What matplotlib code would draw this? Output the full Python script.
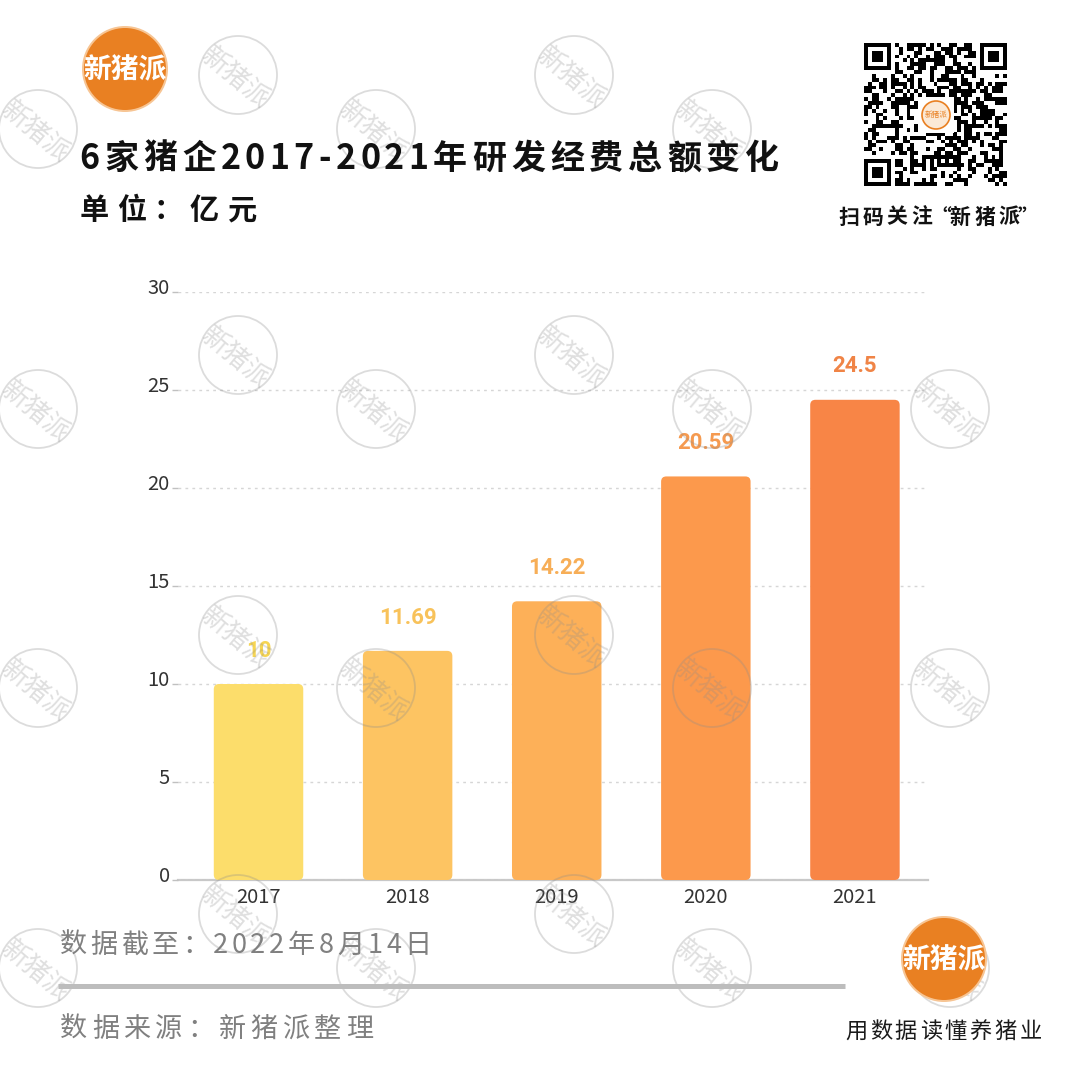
"""6家猪企2017-2021年研发经费总额变化 — bar chart poster recreation."""

import hashlib

import matplotlib

matplotlib.use("Agg")
import matplotlib.pyplot as plt
import numpy as np
from matplotlib.patches import Circle, FancyBboxPatch, Rectangle
from matplotlib.transforms import ScaledTranslation

# ── data ──────────────────────────────────────────────────────────────────────
years = ["2017", "2018", "2019", "2020", "2021"]
values = [10, 11.69, 14.22, 20.59, 24.5]
value_labels = ["10", "11.69", "14.22", "20.59", "24.5"]
y_ticks = [0, 5, 10, 15, 20, 25, 30]

bar_colors = ["#FCDD6B", "#FDC462", "#FDB058", "#FC994C", "#F88546"]
label_colors = ["#F6D553", "#F8C25A", "#F7AE57", "#F59A50", "#F08446"]

CJK = "Noto Sans CJK SC"
plt.rcParams["font.family"] = [CJK, "DejaVu Sans"]

W = H = 1080
fig = plt.figure(figsize=(10.8, 10.8), dpi=100)
fig.patch.set_facecolor("white")

# ── chart axes ────────────────────────────────────────────────────────────────
ax = fig.add_axes([178 / W, 1 - 880 / H, 750 / W, 588 / H])
x = np.arange(len(years))
bars = ax.bar(x, values, width=0.6, color=bar_colors, zorder=2)
ax.set_xlim(-0.54, 4.49)
ax.set_ylim(0, 30)

# rounded corners: rebuild each bar as a FancyBboxPatch with equal px radius
x_per_px = (4.49 + 0.54) / 750
y_per_px = 30 / 588
aspect = y_per_px / x_per_px
for b in bars:
    p = FancyBboxPatch(
        (b.get_x(), b.get_y()),
        b.get_width(),
        b.get_height(),
        boxstyle="round,pad=0,rounding_size=0.035",
        mutation_aspect=aspect,
        facecolor=b.get_facecolor(),
        edgecolor="none",
        zorder=2,
    )
    ax.add_patch(p)
    b.set_visible(False)

for i, (v, lbl, c) in enumerate(zip(values, value_labels, label_colors)):
    ax.annotate(
        lbl, (i, v), xytext=(0, 24), textcoords="offset points",
        ha="center", va="center", fontsize=16, fontweight="bold",
        family="Roboto", color=c, zorder=3,
    )

for s in ax.spines.values():
    s.set_visible(False)
ax.set_yticks(y_ticks)
ax.set_xticks(x)
ax.set_xticklabels(years)
ax.yaxis.grid(True, linestyle=(0, (2, 3)), color="#d6d6d6", lw=1, zorder=0)
ax.axhline(0, color="#c8c8c8", lw=1.6, zorder=1, clip_on=False)
ax.tick_params(axis="y", length=4, width=1, color="#c0c0c0", pad=2,
               labelsize=14.5, labelcolor="#333333")
ax.tick_params(axis="x", length=0, pad=5, labelsize=14.5, labelcolor="#333333")
ax.set_facecolor("none")
shift = ScaledTranslation(0, 6 / 100, fig.dpi_scale_trans)
for t in ax.get_yticklabels():
    t.set_transform(t.get_transform() + shift)

# ── decoration layer (pixel coordinates, y downwards) ─────────────────────────
deco = fig.add_axes([0, 0, 1, 1], zorder=10)
deco.set_autoscale_on(False)
deco.set_xlim(0, W)
deco.set_ylim(H, 0)
deco.axis("off")
deco.patch.set_alpha(0)

# watermarks
wm_a = [(238, 75), (574, 75), (238, 355), (574, 355),
        (238, 635), (574, 635), (238, 914), (574, 914)]
wm_b = [(38, 129), (376, 129), (712, 129),
        (38, 409), (376, 409), (712, 409), (950, 409),
        (38, 688), (376, 688), (712, 688), (950, 688),
        (38, 968), (376, 968), (712, 968), (950, 968)]
for cx, cy in wm_a + wm_b:
    deco.add_patch(Circle((cx, cy), 39, fill=False, ec="#8c8c8c", lw=1.3,
                          alpha=0.3, zorder=1))
    deco.text(cx - 3, cy + 3, "新猪派", rotation=-40, rotation_mode="anchor",
              ha="center", va="center", fontsize=19, color="#8c8c8c",
              alpha=0.28, zorder=1)


def em_width(ch):
    if ch.isdigit():
        return 0.56
    if ch == "-":
        return 0.42
    if ch == " ":
        return 0.25
    if ch in "“”":
        return 0.5
    return 1.0


def spaced(x0, base, s, size, gap, **kw):
    em = size * 100 / 72
    xx = x0
    for ch in s:
        w = em_width(ch) * em
        deco.text(xx + w / 2, base, ch, fontsize=size, ha="center",
                  va="baseline", zorder=5, **kw)
        xx += w + gap


def logo(cx, cy, r, fs):
    deco.add_patch(Circle((cx, cy), r + 2, fc="#F7C594", ec="none", zorder=4))
    deco.add_patch(Circle((cx, cy), r, fc="#E98022", ec="none", zorder=4))
    deco.text(cx, cy + 1, "新猪派", color="white", fontsize=fs,
              fontweight="bold", ha="center", va="center", zorder=5)


# titles
spaced(80, 169, "6家猪企2017-2021年研发经费总额变化", 24.5, 5,
       fontweight="bold", color="#111111")
spaced(80, 219, "单位：亿元", 21, 7.5, fontweight="bold", color="#111111")

# logos
logo(125, 69, 41, 20)
logo(944, 959, 41, 20)

# QR-style code block
n = 37
raw = b"".join(hashlib.sha256(f"xinzhupai-{i}".encode()).digest() for i in range(6))
bits = np.unpackbits(np.frombuffer(raw, dtype=np.uint8))[: n * n].reshape(n, n)
qr = bits.astype(float)


def finder(r0, c0):
    qr[r0:r0 + 7, c0:c0 + 7] = 1
    qr[r0 + 1:r0 + 6, c0 + 1:c0 + 6] = 0
    qr[r0 + 2:r0 + 5, c0 + 2:c0 + 5] = 1


finder(0, 0)
finder(0, n - 7)
finder(n - 7, 0)
qr[0:8, 7] = 0
qr[7, 0:8] = 0
qr[0:8, n - 8] = 0
qr[7, n - 8:] = 0
qr[n - 8, 0:8] = 0
qr[n - 8:, 7] = 0
deco.imshow(qr, cmap="gray_r", vmin=0, vmax=1, interpolation="nearest",
            extent=(864, 1007, 186, 43), zorder=4)
deco.add_patch(Rectangle((918, 97), 36, 36, fc="white", ec="none", zorder=5))
deco.add_patch(Circle((936, 115), 14, fc="#FBE9D6", ec="#E98022", lw=1.2, zorder=6))
deco.text(936, 115, "新猪派", fontsize=5.5, color="#E98022", ha="center",
          va="center", zorder=7)

spaced(838, 223.5, "扫码关注“新猪派”", 15, 3.6, fontweight="bold",
       color="#111111")

# footer
spaced(60, 953, "数据截至：2022年8月14日", 19.5, 3.5, color="#808080")
deco.plot([58, 845], [986, 986], color="#bdbdbd", lw=3.6,
          solid_capstyle="butt", zorder=3)
spaced(60, 1037, "数据来源：新猪派整理", 19.5, 4.7, color="#808080")
spaced(845, 1038, "用数据读懂养猪业", 16, 2.7, color="#1a1a1a")

deco.set_xlim(0, W)
deco.set_ylim(H, 0)

fig.savefig("out.png", dpi=100, facecolor="white")
plt.close(fig)
